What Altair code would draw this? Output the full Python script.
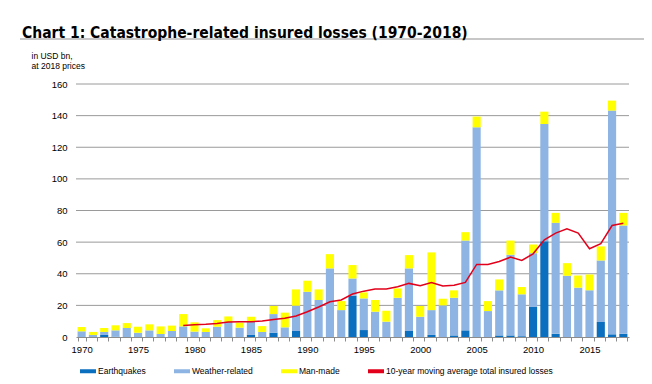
import altair as alt
import pandas as pd

years = list(range(1970, 2019))
earthquakes = [0, 0, 1.3, 0.2, 0, 0, 0, 0, 0, 0,
               0, 0, 0, 0.3, 0, 1.3, 0, 2.7, 0, 3.8,
               0, 0, 0, 0, 26.1, 4.4, 0, 0, 0, 3.8,
               0, 1.3, 0, 1.0, 4.2, 0.3, 0, 1.0, 1.0, 0.5,
               19.0, 60.6, 2.0, 0, 0, 0, 9.5, 1.7, 2.0]
weather = [3.6, 1.3, 1.9, 4.0, 5.7, 2.7, 4.2, 1.9, 3.8, 6.7,
           3.4, 3.2, 6.5, 9.2, 5.9, 8.4, 3.2, 11.8, 6.1, 16.0,
           28.6, 23.4, 43.4, 17.0, 10.9, 20.0, 16.0, 9.7, 24.8, 39.6,
           12.8, 15.7, 20.0, 23.8, 56.8, 132.3, 16.4, 28.5, 51.0, 26.5,
           34.0, 74.1, 70.2, 38.7, 31.2, 29.5, 38.9, 141.5, 68.5]
manmade = [2.7, 1.9, 2.5, 3.2, 3.1, 3.8, 3.8, 4.8, 3.4, 7.8,
           5.9, 2.3, 4.2, 3.5, 3.2, 3.1, 3.7, 5.1, 9.3, 10.3,
           7.0, 6.7, 9.0, 5.7, 8.5, 3.8, 7.4, 6.9, 5.9, 8.4,
           6.8, 36.5, 4.2, 4.7, 5.3, 6.8, 6.3, 6.9, 9.0, 4.6,
           5.5, 7.8, 6.3, 8.0, 7.7, 10.1, 8.9, 6.3, 8.0]
ma_years = list(range(1979, 2019))
moving_avg = [7.3, 7.8, 8.0, 8.6, 9.5, 9.7, 9.7, 10.1, 11.0, 11.8,
              13.3, 16.0, 19.0, 22.3, 23.4, 27.2, 29.0, 30.3, 30.3, 31.8,
              33.9, 32.4, 34.5, 32.2, 32.8, 34.5, 45.9, 45.9, 47.8, 50.5,
              48.4, 52.6, 61.5, 65.7, 68.4, 65.7, 55.8, 59.0, 70.5, 72.0]

cats = ["Earthquakes", "Weather-related", "Man-made"]
ma_label = "10-year moving average total insured losses"
tick_years = [1970, 1975, 1980, 1985, 1990, 1995, 2000, 2005, 2010, 2015]
y_ticks = [0, 20, 40, 60, 80, 100, 120, 140, 160]

rows = []
for i, yr in enumerate(years):
    for k, (c, arr) in enumerate(zip(cats, [earthquakes, weather, manmade])):
        rows.append({"year": yr, "type": c, "value": arr[i], "order": k})
df = pd.DataFrame(rows)
df_ma = pd.DataFrame({"year": ma_years, "ma": moving_avg})
df_grid = pd.DataFrame({"v": y_ticks[1:]})

color_scale = alt.Scale(domain=cats + [ma_label],
                        range=["#0B6FBF", "#8DB4E2", "#FFFF00", "#E2001A"])

x_axis = alt.Axis(labelAngle=0, tickBand="extent", tickSize=4,
                  labelExpr="indexof(" + str(tick_years) + ", datum.value) >= 0 ? datum.label : ''",
                  domainColor="#8c8c8c", tickColor="#8c8c8c",
                  labelFontSize=9.5, labelColor="#000", labelPadding=3)
y_axis = alt.Axis(values=y_ticks, labelOverlap=False, grid=False,
                  domain=False, ticks=False,
                  labelFontSize=9.5, labelColor="#000", labelPadding=9,
                  title=["in USD bn,", "at 2018 prices"],
                  titleAngle=0, titleAlign="left", titleBaseline="top",
                  titleX=-45, titleY=-33, titleFontSize=8.5,
                  titleFontWeight="normal", titleLineHeight=10.5)

grid = alt.Chart(df_grid).mark_rule(color="#9a9a9a", strokeWidth=1).encode(
    y=alt.Y("v:Q", scale=alt.Scale(domain=[0, 160]), axis=y_axis),
)

bars = alt.Chart(df).mark_bar().encode(
    x=alt.X("year:O", title="",
            scale=alt.Scale(paddingInner=0.28, paddingOuter=0.14), axis=x_axis),
    y=alt.Y("value:Q", stack="zero", scale=alt.Scale(domain=[0, 160]), axis=y_axis),
    color=alt.Color("type:N", scale=color_scale,
                    legend=alt.Legend(title=None, orient="none", direction="horizontal",
                                      legendX=4, legendY=279,
                                      symbolType="M-1,-0.25H1V0.25H-1Z",
                                      symbolSize=256, symbolStrokeWidth=0,
                                      labelFontSize=8.5, labelOffset=2, labelLimit=400,
                                      columnPadding=28)),
    order=alt.Order("order:Q"),
)

line = alt.Chart(df_ma).mark_line(strokeWidth=1.5).encode(
    x=alt.X("year:O", title="", axis=x_axis),
    y=alt.Y("ma:Q", axis=y_axis),
    color=alt.datum(ma_label, type="nominal"),
)

sep = alt.Chart(pd.DataFrame({"a": [0]})).mark_rule(color="#8f8f8f", strokeWidth=1).encode(
    x=alt.value(-56), x2=alt.value(590), y=alt.value(-45)
)

chart = alt.layer(grid, bars, line, sep).properties(
    width=553, height=253,
    autosize=alt.AutoSizeParams(type="none"),
    padding={"left": 68, "top": 76, "right": 15, "bottom": 39},
    title=alt.TitleParams("Chart 1: Catastrophe-related insured losses (1970-2018)",
                          anchor="start", frame="group", dx=-54, offset=-3,
                          fontSize=15.5, fontWeight="bold",
                          font="Liberation Sans Narrow, Arial Narrow, DejaVu Sans Condensed, sans-serif",
                          color="#000"),
).configure(font="Liberation Sans, Arial, sans-serif").configure_view(stroke=None)

chart.save("out.html", embed_options={"renderer": "svg", "actions": False})
